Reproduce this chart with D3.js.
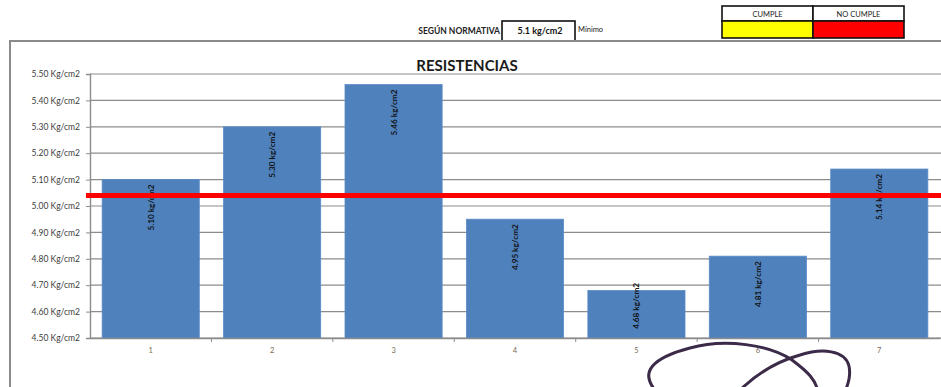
<!DOCTYPE html>
<html>
<head>
<meta charset="utf-8">
<script src="https://cdn.jsdelivr.net/npm/d3@7"></script>
<style>
  html, body { margin: 0; padding: 0; background: #fff; }
  svg { display: block; }
</style>
</head>
<body>
<svg id="chart" width="941" height="387"></svg>
<script>
// Ensayos de resistencia
const categories = ["1", "2", "3", "4", "5", "6", "7"];
const values = [5.10, 5.30, 5.46, 4.95, 4.68, 4.81, 5.14];
const valueLabels = ["5.10 kg/cm2", "5.30 kg/cm2", "5.46 kg/cm2", "4.95 kg/cm2", "4.68 kg/cm2", "4.81 kg/cm2", "5.14 kg/cm2"];
const yTicks = [4.50, 4.60, 4.70, 4.80, 4.90, 5.00, 5.10, 5.20, 5.30, 5.40, 5.50];
const yTickLabels = ["4.50 Kg/cm2", "4.60 Kg/cm2", "4.70 Kg/cm2", "4.80 Kg/cm2", "4.90 Kg/cm2", "5.00 Kg/cm2", "5.10 Kg/cm2", "5.20 Kg/cm2", "5.30 Kg/cm2", "5.40 Kg/cm2", "5.50 Kg/cm2"];
const limitValue = [5.04];
const normText = ["SEGÚN NORMATIVA", "5.1 kg/cm2", "Mínimo"];
const legendLabels = ["CUMPLE", "NO CUMPLE"];
const legendColors = ["#ffff00", "#ff0000"];

const svg = d3.select("#chart");
const font = "Lato, 'Open Sans', Arial, sans-serif";

// ---- encabezado ----
svg.append("text").attr("x", 500).attr("y", 34).attr("text-anchor", "end")
  .attr("font-family", font).attr("font-weight", "bold").attr("font-size", 8.5)
  .attr("fill", "#222").text(normText[0]);
svg.append("rect").attr("x", 502).attr("y", 21).attr("width", 73).attr("height", 20)
  .attr("fill", "#fff").attr("stroke", "#111").attr("stroke-width", 1.6);
svg.append("text").attr("x", 540).attr("y", 34).attr("text-anchor", "middle")
  .attr("font-family", font).attr("font-weight", "bold").attr("font-size", 9)
  .attr("fill", "#111").text(normText[1]);
svg.append("text").attr("x", 578).attr("y", 32)
  .attr("font-family", font).attr("font-size", 7.5).attr("fill", "#222").text(normText[2]);

const legX = d3.scaleBand().domain(legendLabels).range([722, 904]);
const leg = svg.append("g");
legendLabels.forEach((l, i) => {
  const x0 = legX(l), w = legX.bandwidth();
  leg.append("rect").attr("x", x0).attr("y", 6).attr("width", w).attr("height", 15)
    .attr("fill", "#fff").attr("stroke", "#111").attr("stroke-width", 1.6);
  leg.append("rect").attr("x", x0).attr("y", 21).attr("width", w).attr("height", 17)
    .attr("fill", legendColors[i]).attr("stroke", "#111").attr("stroke-width", 1.6);
  leg.append("text").attr("x", x0 + w / 2).attr("y", 17).attr("text-anchor", "middle")
    .attr("font-family", font).attr("font-size", 7.5).attr("fill", "#222").text(l);
});

// ---- marco del gráfico ----
svg.append("path").attr("d", "M10,387 V41 H941")
  .attr("fill", "none").attr("stroke", "#8a8a8a").attr("stroke-width", 2);

// ---- escalas ----
const plot = { left: 90, right: 940, top: 74, bottom: 338 };
const x = d3.scaleBand().domain(categories).range([plot.left, plot.right])
  .paddingInner(0.2).paddingOuter(0.1);
const y = d3.scaleLinear().domain([4.5, 5.5]).range([plot.bottom, plot.top]);

// título
svg.append("text").attr("x", 467).attr("y", 71).attr("text-anchor", "middle")
  .attr("font-family", font).attr("font-weight", "bold").attr("font-size", 15)
  .attr("fill", "#1a1a1a").text("RESISTENCIAS");

// líneas de cuadrícula
svg.append("g").selectAll("line").data(yTicks).join("line")
  .attr("x1", plot.left).attr("x2", 941)
  .attr("y1", d => y(d)).attr("y2", d => y(d))
  .attr("stroke", "#8c8c8c").attr("stroke-width", 1.2);

// eje Y
const yAxis = d3.axisLeft(y).tickValues(yTicks).tickSize(4).tickPadding(6)
  .tickFormat((d, i) => yTickLabels[i]);
const gy = svg.append("g").attr("transform", `translate(${plot.left},0)`).call(yAxis);
gy.select(".domain").attr("stroke", "#8c8c8c").attr("stroke-width", 1.4);
gy.selectAll(".tick line").attr("stroke", "#8c8c8c");
gy.selectAll(".tick text").attr("font-family", font).attr("font-size", 8.5)
  .attr("fill", "#3c3c3c");

// barras
svg.append("g").selectAll("rect").data(values).join("rect")
  .attr("x", (d, i) => x(categories[i]))
  .attr("width", x.bandwidth())
  .attr("y", d => y(d))
  .attr("height", d => plot.bottom - y(d))
  .attr("fill", "#4f81bd").attr("stroke", "#5b8bc6").attr("stroke-width", 0.8);

// eje X
const xAxis = d3.axisBottom(x).tickSize(0).tickPadding(10);
const gx = svg.append("g").attr("transform", `translate(0,${plot.bottom})`).call(xAxis);
gx.select(".domain").attr("stroke", "#8c8c8c").attr("stroke-width", 1.4);
gx.selectAll(".tick text").attr("font-family", font).attr("font-size", 7.5)
  .attr("fill", "#7a6a50");
// marcas entre categorías
const bounds = categories.slice(1).map(c => x(c) - x.step() * x.paddingInner() / 2);
gx.selectAll(".sep").data(bounds).join("line").attr("class", "sep")
  .attr("x1", d => d).attr("x2", d => d).attr("y1", 0).attr("y2", 4)
  .attr("stroke", "#8c8c8c");

// etiquetas de valor (verticales, dentro del extremo de la barra)
const labelLen = 50;
svg.append("g").selectAll("text").data(values).join("text")
  .attr("transform", (d, i) => {
    const cx = x(categories[i]) + x.bandwidth() / 2 + 3;
    const top = Math.min(y(d) + 5, plot.bottom - 5 - labelLen);
    return `translate(${cx},${top}) rotate(-90)`;
  })
  .attr("text-anchor", "end")
  .attr("font-family", font).attr("font-weight", "bold").attr("font-size", 8.2)
  .attr("fill", "#111")
  .text((d, i) => valueLabels[i]);

// línea del mínimo
svg.append("g").selectAll("line").data(limitValue).join("line")
  .attr("x1", plot.left - 4).attr("x2", 941)
  .attr("y1", d => y(d)).attr("y2", d => y(d))
  .attr("stroke", "#ff0000").attr("stroke-width", 5);

// trazo a mano
svg.append("path")
  .attr("d", "M655,390 C640,372 652,358 690,348 C725,338 770,345 792,360 C808,372 816,380 818,392")
  .attr("fill", "none").attr("stroke", "#3b2a48").attr("stroke-width", 3).attr("stroke-linecap", "round");
svg.append("path")
  .attr("d", "M738,392 C755,375 775,362 800,355 C822,348 845,350 849,366 C851,376 848,384 845,392")
  .attr("fill", "none").attr("stroke", "#3b2a48").attr("stroke-width", 3).attr("stroke-linecap", "round");
</script>
</body>
</html>
